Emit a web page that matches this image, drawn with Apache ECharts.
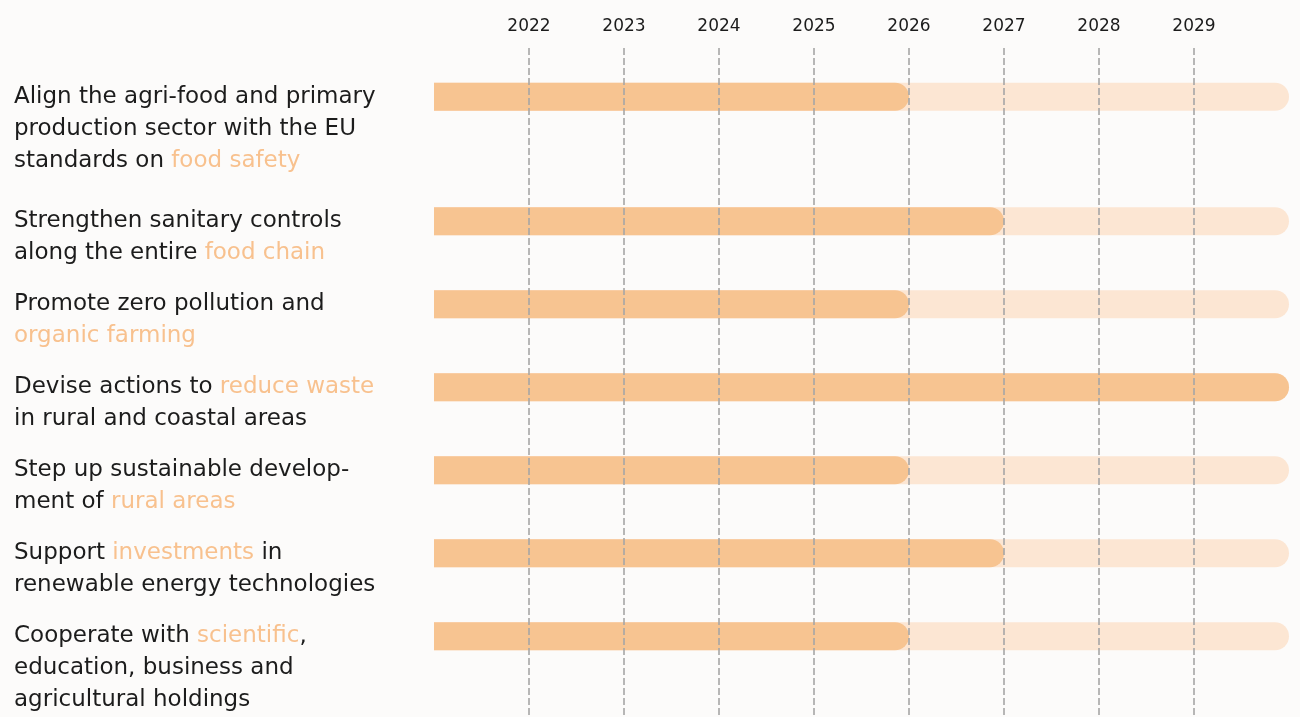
<!DOCTYPE html>
<html><head><meta charset="utf-8">
<script src="https://cdn.jsdelivr.net/npm/echarts@6/dist/echarts.min.js"></script>
<style>html,body{margin:0;padding:0;background:#fcfbfa;}#c{width:1300px;height:717px;}</style>
</head><body><div id="c"></div>
<script>
// ---- data ----
const labelLines = [
  ["Align the agri-food and primary", "production sector with the EU", "standards on {h|food safety}"],
  ["Strengthen sanitary controls", "along the entire {h|food chain}"],
  ["Promote zero pollution and", "{h|organic farming}"],
  ["Devise actions to {h|reduce waste}", "in rural and coastal areas"],
  ["Step up sustainable develop-", "ment of {h|rural areas}"],
  ["Support {h|investments} in", "renewable energy technologies"],
  ["Cooperate with {h|scientific},", "education, business and", "agricultural holdings"]
];
const startYear = 2021;
const horizonYear = 2030;
const endYears = [2026, 2027, 2026, 2030, 2026, 2027, 2026];
const tickYears = [2022, 2023, 2024, 2025, 2026, 2027, 2028, 2029];

// ---- build: each row takes as many category slots as its label has lines ----
const rowSlot = [];
let acc = 0;
labelLines.forEach(l => { rowSlot.push(acc); acc += l.length; });
const nSlots = rowSlot[rowSlot.length - 1] + 1;
const slots = Array.from({length: nSlots}, (_, k) => 's' + k);
const slotRow = {};
rowSlot.forEach((s, i) => { slotRow[s] = i; });
const bgData = slots.map((_, k) => (k in slotRow) ? horizonYear : '-');
const fgData = slots.map((_, k) => (k in slotRow) ? endYears[slotRow[k]] : '-');

const FONT = 'DejaVu Sans';
const chart = echarts.init(document.getElementById('c'));
const gridLeft = 434, gridRight = 11;
const slotH = 41.5, gridTop = 76;
chart.setOption({
  backgroundColor: '#fcfbfa',
  animation: false,
  grid: [
    {left: gridLeft, right: gridRight, top: gridTop, height: slotH * nSlots},
    {left: gridLeft, right: gridRight, top: 48, bottom: 0}
  ],
  xAxis: [
    {gridIndex: 0, type: 'value', min: startYear, max: horizonYear, show: false, splitLine: {show: false}},
    {gridIndex: 1, type: 'value', min: startYear, max: horizonYear, interval: 1, position: 'top', z: 10,
      axisLine: {show: false}, axisTick: {show: false},
      axisLabel: {margin: 13, color: '#1c1c1c', fontFamily: FONT, fontSize: 17,
        formatter: v => tickYears.includes(v) ? String(v) : ''},
      splitLine: {show: true, showMinLine: false, showMaxLine: false,
        lineStyle: {color: '#a6a6a6', width: 1.6, type: [7, 3]}}
    }
  ],
  yAxis: [
    {gridIndex: 0, type: 'category', data: slots, inverse: true,
      axisLine: {show: false}, axisTick: {show: false}, splitLine: {show: false},
      axisLabel: {
        interval: 0, hideOverlap: false,
        align: 'left', margin: gridLeft - 14, verticalAlign: 'middle',
        fontFamily: FONT, fontSize: 23, lineHeight: 32, color: '#1c1c1c',
        formatter: (v, idx) => {
          if (!(idx in slotRow)) return '';
          const lines = labelLines[slotRow[idx]];
          return '\n'.repeat(lines.length - 1) + lines.join('\n');
        },
        rich: {h: {color: '#f8c18e', fontFamily: FONT, fontSize: 23, lineHeight: 32}}
      }
    },
    {gridIndex: 1, type: 'category', data: [''], show: false}
  ],
  series: [
    {type: 'bar', xAxisIndex: 0, yAxisIndex: 0, barWidth: 28, barGap: '-100%',
      data: bgData, silent: true,
      itemStyle: {color: '#fce6d3', borderRadius: [0, 14, 14, 0]}},
    {type: 'bar', xAxisIndex: 0, yAxisIndex: 0, barWidth: 28, barGap: '-100%',
      data: fgData, silent: true,
      itemStyle: {color: '#f7c491', borderRadius: [0, 14, 14, 0]}}
  ]
});
</script></body></html>
